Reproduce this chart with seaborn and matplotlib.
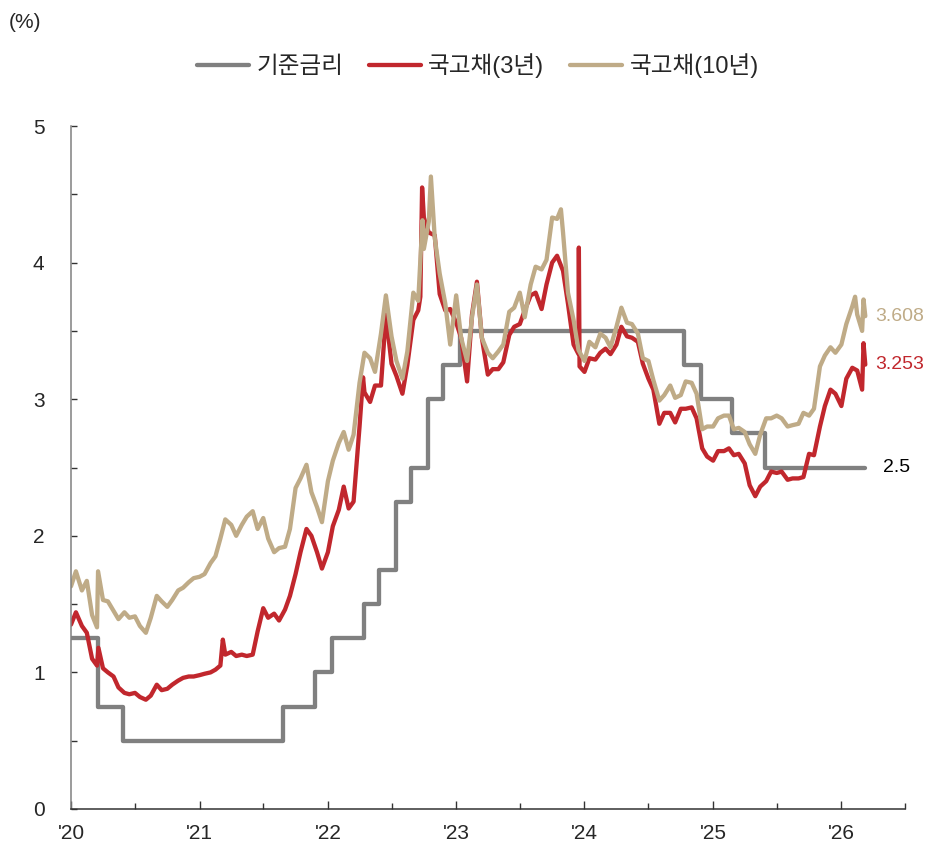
import numpy as np
import pandas as pd
import matplotlib
matplotlib.use("Agg")
import matplotlib.pyplot as plt
import matplotlib.dates as mdates
from matplotlib.ticker import MultipleLocator
import seaborn as sns

# ---- data -------------------------------------------------------------
# semi-monthly observations (1st and 15th of each month)
obs_dates = pd.date_range("2020-01-01", "2026-03-01", freq="SMS")

ktb3_2020 = [1.35, 1.44, 1.34, 1.29, 1.10, 1.05, 1.03, 1.00, 0.97, 0.89, 0.85, 0.84,
             0.85, 0.82, 0.80, 0.83, 0.91, 0.87, 0.88, 0.91, 0.94, 0.96, 0.97, 0.97]
ktb3_2021 = [0.98, 0.99, 1.00, 1.02, 1.05, 1.13, 1.15, 1.12, 1.13, 1.12, 1.13, 1.30,
             1.47, 1.40, 1.43, 1.38, 1.46, 1.56, 1.72, 1.88, 2.05, 2.00, 1.88, 1.76]
ktb3_2022 = [1.88, 2.07, 2.19, 2.36, 2.20, 2.25, 2.80, 3.05, 2.98, 3.10, 3.10, 3.62,
             3.26, 3.17, 3.04, 3.25, 3.58, 3.65, 4.33, 4.22, 4.20, 3.77, 3.65, 3.66]
ktb3_2023 = [3.56, 3.45, 3.13, 3.62, 3.86, 3.45, 3.18, 3.22, 3.22, 3.27, 3.47, 3.53,
             3.55, 3.65, 3.76, 3.78, 3.66, 3.84, 4.00, 4.05, 3.94, 3.70, 3.40, 3.33]
ktb3_2024 = [3.20, 3.30, 3.29, 3.34, 3.37, 3.33, 3.40, 3.53, 3.46, 3.45, 3.42, 3.26,
             3.15, 3.07, 2.82, 2.90, 2.90, 2.83, 2.93, 2.93, 2.94, 2.86, 2.64, 2.58]
ktb3_2025 = [2.55, 2.62, 2.62, 2.64, 2.59, 2.60, 2.53, 2.37, 2.29, 2.36, 2.40, 2.47,
             2.46, 2.47, 2.41, 2.42, 2.42, 2.43, 2.60, 2.59, 2.80, 2.95, 3.07, 3.04]
ktb3_2026 = [2.95, 3.15, 3.23, 3.21, 3.07]
# intra-period moves between the semi-monthly points
ktb3_extra_dates = ["2020-03-19", "2021-03-08", "2022-04-11", "2022-09-21", "2022-09-26",
                    "2023-12-16", "2023-12-18", "2026-03-05", "2026-03-10"]
ktb3_extra = [1.18, 1.24, 3.16, 3.75, 4.55, 4.11, 3.24, 3.41, 3.253]

ktb10_2020 = [1.63, 1.74, 1.60, 1.67, 1.42, 1.33, 1.53, 1.52, 1.45, 1.39, 1.44, 1.40,
              1.41, 1.34, 1.29, 1.40, 1.56, 1.52, 1.48, 1.53, 1.60, 1.62, 1.66, 1.69]
ktb10_2021 = [1.70, 1.72, 1.80, 1.85, 1.98, 2.12, 2.08, 2.00, 2.08, 2.14, 2.18, 2.05,
              2.13, 1.98, 1.88, 1.91, 1.92, 2.05, 2.35, 2.42, 2.52, 2.32, 2.21, 2.10]
ktb10_2022 = [2.40, 2.55, 2.68, 2.76, 2.63, 2.74, 3.12, 3.34, 3.30, 3.20, 3.48, 3.76,
              3.46, 3.28, 3.15, 3.35, 3.78, 3.72, 4.10, 4.30, 4.18, 3.92, 3.70, 3.40]
ktb10_2023 = [3.76, 3.45, 3.28, 3.60, 3.84, 3.45, 3.34, 3.30, 3.35, 3.40, 3.64, 3.67,
              3.78, 3.60, 3.84, 3.97, 3.95, 4.02, 4.33, 4.32, 4.22, 3.78, 3.58, 3.36]
ktb10_2024 = [3.28, 3.42, 3.38, 3.48, 3.45, 3.38, 3.53, 3.67, 3.56, 3.55, 3.48, 3.30,
              3.28, 3.14, 2.99, 3.03, 3.10, 3.01, 3.03, 3.13, 3.12, 3.04, 2.78, 2.80]
ktb10_2025 = [2.80, 2.86, 2.88, 2.88, 2.78, 2.79, 2.76, 2.67, 2.60, 2.74, 2.86, 2.86,
              2.88, 2.86, 2.80, 2.81, 2.82, 2.90, 2.88, 2.93, 3.24, 3.32, 3.38, 3.34]
ktb10_2026 = [3.40, 3.55, 3.68, 3.62, 3.50]
ktb10_extra_dates = ["2020-03-18", "2022-09-27", "2022-10-21", "2023-10-26",
                     "2026-02-09", "2026-03-05", "2026-03-10"]
ktb10_extra = [1.74, 4.31, 4.63, 4.39, 3.75, 3.73, 3.608]

# Bank of Korea base rate decisions
policy_dates = ["2020-01-01", "2020-03-17", "2020-05-28", "2021-08-26", "2021-11-25",
                "2022-01-14", "2022-04-14", "2022-05-26", "2022-07-13", "2022-08-25",
                "2022-10-12", "2022-11-24", "2023-01-13", "2024-10-11", "2024-11-28",
                "2025-02-25", "2025-05-29", "2026-03-10"]
policy_rate = [1.25, 0.75, 0.50, 0.75, 1.00, 1.25, 1.50, 1.75, 2.25, 2.50,
               3.00, 3.25, 3.50, 3.25, 3.00, 2.75, 2.50, 2.50]

series_names = ["기준금리", "국고채(3년)", "국고채(10년)"]
end_labels = ["2.5", "3.253", "3.608"]


def build(values, extra_dates, extra_vals):
    df = pd.DataFrame({"date": obs_dates, "rate": values})
    ex = pd.DataFrame({"date": pd.to_datetime(extra_dates), "rate": extra_vals})
    return pd.concat([df, ex]).sort_values("date").reset_index(drop=True)


ktb3 = build(ktb3_2020 + ktb3_2021 + ktb3_2022 + ktb3_2023 + ktb3_2024 + ktb3_2025 + ktb3_2026,
             ktb3_extra_dates, ktb3_extra)
ktb10 = build(ktb10_2020 + ktb10_2021 + ktb10_2022 + ktb10_2023 + ktb10_2024 + ktb10_2025
              + ktb10_2026, ktb10_extra_dates, ktb10_extra)
base = pd.DataFrame({"date": pd.to_datetime(policy_dates), "rate": policy_rate})

# ---- style ------------------------------------------------------------
sns.set_style("ticks")
plt.rcParams["font.family"] = ["Liberation Sans", "Noto Sans CJK KR", "DejaVu Sans"]
plt.rcParams["axes.unicode_minus"] = False

GRAY = "#808080"
RED = "#C1272D"
TAN = "#BFAB87"
LW = 3.1

fig = plt.figure(figsize=(9.26, 8.5), dpi=100)
ax = fig.add_axes([71 / 926, 1 - 809 / 850, (905 - 71) / 926, (809 - 126) / 850])

sns.lineplot(data=base, x="date", y="rate", ax=ax, color=GRAY, lw=LW,
             drawstyle="steps-post", label=series_names[0], estimator=None)
sns.lineplot(data=ktb3, x="date", y="rate", ax=ax, color=RED, lw=LW,
             label=series_names[1], estimator=None)
sns.lineplot(data=ktb10, x="date", y="rate", ax=ax, color=TAN, lw=LW,
             label=series_names[2], estimator=None)

ax.set_xlim(pd.Timestamp("2020-01-01"), pd.Timestamp("2026-07-01"))
ax.set_ylim(0, 5)
ax.set_xlabel("")
ax.set_ylabel("")

ax.xaxis.set_major_locator(mdates.YearLocator())
ax.xaxis.set_minor_locator(mdates.MonthLocator(bymonth=7))
ax.xaxis.set_major_formatter(mdates.DateFormatter("'%y"))
ax.yaxis.set_major_locator(MultipleLocator(1))
ax.yaxis.set_minor_locator(MultipleLocator(0.5))

ax.tick_params(axis="x", which="major", direction="in", length=5.5, width=1,
               color="#333333", labelsize=15, pad=11)
ax.tick_params(axis="x", which="minor", direction="in", length=4, width=1, color="#333333")
ax.tick_params(axis="y", which="both", direction="in", length=4.3, width=1,
               color="#333333", labelsize=15, pad=19)

sns.despine(ax=ax)
ax.spines["left"].set_color(GRAY)
ax.spines["bottom"].set_color("#333333")
ax.spines["left"].set_linewidth(1.1)
ax.spines["bottom"].set_linewidth(1.1)

# end-of-series value labels
last = [base.iloc[-1], ktb3.iloc[-1], ktb10.iloc[-1]]
colors = ["black", RED, TAN]
offsets = [13, 7, 7]
for row, txt, c, off in zip(last, end_labels, colors, offsets):
    ax.annotate(txt, xy=(row["date"], row["rate"]), xytext=(off, 0),
                textcoords="offset points", va="center", ha="left",
                fontsize=14, color=c)

handles, labels = ax.get_legend_handles_labels()
ax.get_legend().remove()
fig.legend(handles, labels, loc="center", bbox_to_anchor=(478 / 926, 1 - 66 / 850),
           ncol=3, frameon=False, fontsize=17, handlelength=2.2,
           handletextpad=0.3, columnspacing=1.1)

fig.text(9 / 926, 1 - 22 / 850, "(%)", ha="left", va="center", fontsize=15)

fig.savefig("out.png", dpi=100)
